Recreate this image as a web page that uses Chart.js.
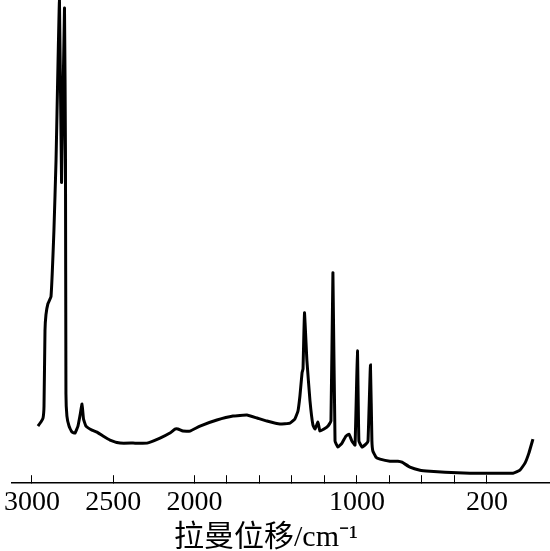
<!DOCTYPE html>
<html>
<head>
<meta charset="utf-8">
<script src="https://cdn.jsdelivr.net/npm/chart.js@4.4.1/dist/chart.umd.min.js"></script>
<style>
  html, body { margin: 0; padding: 0; background: #fff; }
  #wrap { width: 550px; height: 551px; }
</style>
</head>
<body>
<div id="wrap"><canvas id="myChart"></canvas></div>
<script>
// Raman shift (cm-1) and intensity (arbitrary units)
const shift = [
  2963, 2945, 2932, 2926, 2920, 2914, 2902, 2883, 2865, 2852,
  2831, 2818, 2800, 2794, 2791, 2785, 2772, 2754, 2735, 2717,
  2705, 2692, 2683, 2668, 2631, 2600, 2563, 2520, 2458, 2378,
  2292, 2212, 2151, 2120, 2102, 2071, 2028, 1966, 1862, 1763,
  1677, 1615, 1554, 1474, 1412, 1382, 1363, 1351, 1338, 1332,
  1323, 1308, 1289, 1271, 1258, 1240, 1228, 1203, 1178, 1160,
  1148, 1135, 1117, 1092, 1068, 1049, 1031, 1012, 997, 988,
  969, 945, 932, 917, 908, 902, 883, 858, 797, 748,
  723, 674, 612, 551, 458, 305, 120, 40, -3, -34,
  -58, -83
];
const intensity = [
  57, 61, 65, 77, 152, 168, 179, 186, 252, 322,
  482, 300, 474, 332, 89, 67, 57, 51, 50, 57,
  67, 79, 64, 57, 53, 51, 47, 43, 40, 40,
  40, 45, 50, 54, 54, 52, 52, 57, 63, 67,
  68, 65, 62, 59, 60, 64, 72, 87, 110, 114,
  170, 122, 82, 58, 54, 61, 52, 54, 57, 62,
  210, 42, 36, 40, 47, 49, 42, 38, 132, 42,
  36, 39, 42, 118, 42, 32, 26, 24, 22, 22,
  21, 16, 13, 12, 11, 10, 10, 10, 13, 20,
  30, 44
];
const tickValues = [200, 400, 600, 800, 1000, 1200, 1400, 1600, 1800, 2000, 2500, 3000];
const tickLabels = [200, 1000, 2000, 2500, 3000];

const contexto = document.getElementById("myChart").getContext("2d");

const myChart = new Chart(contexto, {
  type: "line",
  data: {
    datasets: [
      {
        label: "Raman",
        data: shift.map((x, i) => ({ x: x, y: intensity[i] })),
        borderColor: "#000",
        borderWidth: 3,
        pointRadius: 0,
        tension: 0.1,
        fill: false,
      },
    ],
  },
  options: {
    responsive: true,
    maintainAspectRatio: false,
    animation: false,
    layout: { padding: { left: 12, right: 0, top: 0, bottom: -2 } },
    plugins: {
      legend: { display: false },
      tooltip: { enabled: false },
    },
    scales: {
      x: {
        type: "linear",
        reverse: true,
        min: -188,
        max: 3123,
        afterBuildTicks: (scale) => {
          scale.ticks = tickValues.map((v) => ({ value: v }));
        },
        ticks: {
          autoSkip: false,
          maxRotation: 0,
          padding: 12,
          color: "#000",
          font: { family: "'Liberation Serif', 'Times New Roman', serif", size: 28, lineHeight: 1.1 },
          callback: (value) => (tickLabels.includes(value) ? String(value) : ""),
        },
        grid: {
          drawOnChartArea: false,
          drawTicks: true,
          tickLength: -8,
          color: "#000",
          lineWidth: 1,
        },
        border: { display: true, color: "#000", width: 1.5 },
        title: {
          display: true,
          text: "拉曼位移/cm⁻¹    ",
          color: "#000",
          font: { family: "'Liberation Serif', 'Noto Sans CJK SC', serif", size: 30, lineHeight: 1 },
          padding: { top: -7, bottom: 0 },
        },
      },
      y: {
        display: false,
        min: 0,
        max: 482,
      },
    },
  },
});
</script>
</body>
</html>
